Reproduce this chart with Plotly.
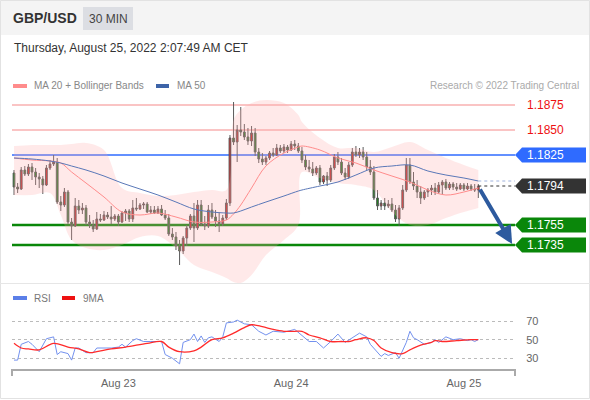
import plotly.graph_objects as go
import pandas as pd

# ---------------- data ----------------
start_time = "2022-08-22 09:30"
opens = [1.1807,1.1793,1.1791,1.1810,1.1806,1.1813,1.1808,1.1803,1.1801,1.1795,
         1.1812,1.1816,1.1818,1.1778,1.1775,1.1788,1.1758,1.1754,1.1774,1.1770,
         1.1772,1.1758,1.1755,1.1751,1.1761,1.1760,1.1765,1.1763,1.1761,1.1764,
         1.1758,1.1767,1.1769,1.1761,1.1772,1.1771,1.1775,1.1776,1.1768,1.1770,
         1.1767,1.1771,1.1765,1.1762,1.1746,1.1743,1.1734,1.1729,1.1742,1.1752,
         1.1764,1.1752,1.1775,1.1756,1.1754,1.1770,1.1763,1.1759,1.1756,1.1762,
         1.1777,1.1842,1.1838,1.1850,1.1848,1.1843,1.1839,1.1847,1.1828,1.1821,
         1.1818,1.1822,1.1827,1.1825,1.1832,1.1829,1.1833,1.1830,1.1836,1.1834,
         1.1829,1.1820,1.1813,1.1811,1.1807,1.1812,1.1798,1.1804,1.1800,1.1812,
         1.1823,1.1818,1.1807,1.1803,1.1815,1.1828,1.1825,1.1828,1.1823,1.1813,
         1.1808,1.1782,1.1774,1.1777,1.1774,1.1776,1.1770,1.1761,1.1772,1.1790,
         1.1815,1.1798,1.1794,1.1788,1.1782,1.1788,1.1790,1.1792,1.1788,1.1795,
         1.1798,1.1792,1.1796,1.1793,1.1791,1.1795,1.1791,1.1794,1.1791,1.1790]
highs = [1.1810,1.1797,1.1813,1.1814,1.1816,1.1817,1.1812,1.1807,1.1804,1.1815,
         1.1820,1.1825,1.1822,1.1784,1.1792,1.1790,1.1762,1.1782,1.1780,1.1777,
         1.1775,1.1765,1.1760,1.1768,1.1766,1.1769,1.1768,1.1774,1.1766,1.1766,
         1.1769,1.1771,1.1771,1.1780,1.1782,1.1777,1.1778,1.1778,1.1774,1.1774,
         1.1774,1.1775,1.1770,1.1766,1.1752,1.1748,1.1740,1.1744,1.1755,1.1766,
         1.1777,1.1780,1.1780,1.1764,1.1775,1.1777,1.1770,1.1768,1.1765,1.1781,
         1.1845,1.1878,1.1855,1.1873,1.1856,1.1852,1.1854,1.1852,1.1832,1.1827,
         1.1824,1.1829,1.1832,1.1836,1.1835,1.1836,1.1835,1.1839,1.1840,1.1837,
         1.1833,1.1825,1.1820,1.1818,1.1814,1.1815,1.1805,1.1808,1.1815,1.1826,
         1.1828,1.1822,1.1812,1.1818,1.1832,1.1834,1.1832,1.1833,1.1828,1.1820,
         1.1814,1.1790,1.1780,1.1782,1.1780,1.1782,1.1775,1.1775,1.1795,1.1822,
         1.1822,1.1808,1.1800,1.1794,1.1790,1.1792,1.1795,1.1797,1.1798,1.1800,
         1.1801,1.1798,1.1798,1.1797,1.1797,1.1797,1.1797,1.1796,1.1796,1.1796]
lows = [1.1785,1.1787,1.1790,1.1804,1.1804,1.1800,1.1795,1.1792,1.1786,1.1794,
        1.1810,1.1814,1.1776,1.1769,1.1773,1.1756,1.1740,1.1753,1.1766,1.1766,
        1.1755,1.1752,1.1748,1.1750,1.1758,1.1759,1.1761,1.1756,1.1759,1.1754,
        1.1757,1.1759,1.1758,1.1758,1.1769,1.1770,1.1771,1.1767,1.1766,1.1766,
        1.1766,1.1764,1.1760,1.1744,1.1740,1.1730,1.1715,1.1726,1.1734,1.1750,
        1.1738,1.1750,1.1754,1.1750,1.1752,1.1761,1.1753,1.1748,1.1754,1.1760,
        1.1774,1.1835,1.1818,1.1844,1.1840,1.1835,1.1834,1.1824,1.1817,1.1815,
        1.1815,1.1820,1.1823,1.1824,1.1827,1.1827,1.1827,1.1829,1.1830,1.1827,
        1.1817,1.1810,1.1808,1.1804,1.1805,1.1795,1.1796,1.1794,1.1798,1.1810,
        1.1815,1.1805,1.1800,1.1801,1.1813,1.1823,1.1822,1.1820,1.1810,1.1805,
        1.1780,1.1770,1.1770,1.1770,1.1772,1.1768,1.1758,1.1754,1.1770,1.1788,
        1.1796,1.1790,1.1782,1.1776,1.1780,1.1783,1.1785,1.1785,1.1786,1.1785,
        1.1790,1.1790,1.1790,1.1789,1.1790,1.1789,1.1790,1.1789,1.1788,1.1782]
closes = [1.1793,1.1791,1.1810,1.1806,1.1813,1.1808,1.1803,1.1801,1.1795,1.1812,
          1.1816,1.1818,1.1778,1.1775,1.1788,1.1758,1.1754,1.1774,1.1770,1.1772,
          1.1758,1.1755,1.1751,1.1761,1.1760,1.1765,1.1763,1.1761,1.1764,1.1758,
          1.1767,1.1769,1.1761,1.1772,1.1771,1.1775,1.1776,1.1768,1.1770,1.1767,
          1.1771,1.1765,1.1762,1.1746,1.1743,1.1734,1.1729,1.1742,1.1752,1.1764,
          1.1752,1.1775,1.1756,1.1754,1.1770,1.1763,1.1759,1.1756,1.1762,1.1777,
          1.1842,1.1838,1.1850,1.1848,1.1843,1.1839,1.1847,1.1828,1.1821,1.1818,
          1.1822,1.1827,1.1825,1.1832,1.1829,1.1833,1.1830,1.1836,1.1834,1.1829,
          1.1820,1.1813,1.1811,1.1807,1.1812,1.1798,1.1804,1.1800,1.1812,1.1823,
          1.1818,1.1807,1.1803,1.1815,1.1828,1.1825,1.1828,1.1823,1.1813,1.1808,
          1.1782,1.1774,1.1777,1.1774,1.1776,1.1770,1.1761,1.1772,1.1790,1.1815,
          1.1798,1.1794,1.1788,1.1782,1.1788,1.1790,1.1792,1.1788,1.1795,1.1798,
          1.1792,1.1796,1.1793,1.1791,1.1795,1.1791,1.1794,1.1791,1.1790,1.1794]

# indicator sample positions (candle index) and values
ind_idx = [0,5,10,13,16,20,25,30,35,40,45,50,55,59,61,63,66,70,75,79,80,85,90,95,100,105,110,115,120,125,129]
ma50 = [1.1822,1.1821,1.1819,1.1817,1.1814,1.1810,1.1804,1.1797,1.1791,1.1785,1.1778,1.1771,1.1768,1.1767,1.1767,
        1.1769,1.1773,1.1778,1.1784,1.1789,1.1790,1.1794,1.1798,1.1805,1.1812,1.1814,1.1815,1.1809,1.1805,1.1802,1.1799]
ma20 = [1.1822,1.1820,1.1819,1.1817,1.1808,1.1797,1.1783,1.1768,1.1765,1.1767,1.1763,1.1758,1.1758,1.1760,1.1766,
        1.1775,1.1792,1.1814,1.1827,1.1833,1.1834,1.1830,1.1822,1.1817,1.1810,1.1804,1.1798,1.1790,1.1785,1.1788,1.1792]
bb_upper = [1.1834,1.1835,1.1835,1.1835,1.1836,1.1837,1.1830,1.1792,1.1787,1.1784,1.1785,1.1788,1.1790,1.1790,1.1860,
            1.1870,1.1877,1.1880,1.1877,1.1865,1.1858,1.1842,1.1832,1.1832,1.1828,1.1833,1.1838,1.1830,1.1822,1.1815,1.1810]
bb_lower = [1.1785,1.1785,1.1787,1.1765,1.1740,1.1732,1.1730,1.1735,1.1743,1.1744,1.1732,1.1715,1.1708,1.1702,1.1698,
            1.1697,1.1705,1.1725,1.1740,1.1755,1.1808,1.1802,1.1797,1.1795,1.1790,1.1768,1.1755,1.1755,1.1762,1.1768,1.1772]

rsi_idx = [0,1,2,4,5,7,9,11,12,13,15,16,17,18,20,22,23,25,27,29,30,31,33,34,36,38,41,42,44,46,47,49,50,51,52,53,
           54,55,57,58,59,61,62,64,66,68,70,72,75,78,80,82,84,86,88,90,92,94,96,98,99,102,103,104,106,107,109,110,
           111,112,114,116,117,118,120,122,124,126,127,128,129]
rsi = [28,28,45,48,45,37,51,53,34,37,35,28,41,41,36,36,41,41,41,42,45,42,49,51,48,48,48,34,30,24,47,50,56,48,54,47,
       52,53,48,53,68,69,71,67,66,59,55,59,58,61,55,48,48,41,48,56,47,52,57,53,45,32,35,33,36,30,47,59,
       52,50,45,47,50,47,53,50,51,49,50,48,50]
ma9_idx = [0,2,4,7,11,15,18,21,23,27,31,37,41,43,46,50,52,55,58,61,64,66,69,72,75,78,80,82,85,88,91,93,95,98,100,
           102,105,108,110,113,116,117,119,123,127,129]
rsi_ma9 = [46,41,40,39,46,42,40,36,37,40,42,46,48,42,37,38,42,50,52,57,63,66,64,61,59,59,59,55,52,48,48,48,50,52,49,
           41,36,35,39,44,47,49,48,49,50,50]

levels_res = [1.1875, 1.1850]
level_pivot = 1.1825
level_last = 1.1794
levels_sup = [1.1755, 1.1735]
tick_days = ["2022-08-23", "2022-08-24", "2022-08-25"]

# ---------------- helpers ----------------
W, H = 590, 400
L, R = 12, 75
PW = W - L - R
t0 = pd.Timestamp(start_time)
step = pd.Timedelta(minutes=30)


def tm(i):
    return t0 + step * i


def px(x):
    return (x - L) / PW


def py(y):
    return (H - y) / H


times = [tm(i) for i in range(len(closes))]
ind_t = [tm(i) for i in ind_idx]
rsi_t = [tm(i) for i in rsi_idx]
ma9_t = [tm(i) for i in ma9_idx]

FONT = "Liberation Sans, Arial, Helvetica, sans-serif"

fig = go.Figure()

# Bollinger band
fig.add_trace(go.Scatter(x=ind_t, y=bb_lower, mode="lines", line=dict(width=0, shape="spline"),
                         hoverinfo="skip", xaxis="x", yaxis="y"))
fig.add_trace(go.Scatter(x=ind_t, y=bb_upper, mode="lines", line=dict(width=0, shape="spline"),
                         fill="tonexty", fillcolor="rgba(255,170,170,0.26)", hoverinfo="skip",
                         xaxis="x", yaxis="y"))
fig.add_trace(go.Scatter(x=ind_t, y=ma20, mode="lines", line=dict(width=1, color="#ff8c8c", shape="spline"),
                         xaxis="x", yaxis="y"))
fig.add_trace(go.Scatter(x=ind_t, y=ma50, mode="lines", line=dict(width=1, color="#5a78b8", shape="spline"),
                         xaxis="x", yaxis="y"))
# dotted extensions
x_end = tm(139.2)
fig.add_trace(go.Scatter(x=[times[-1], x_end], y=[ma50[-1], ma50[-1]], mode="lines",
                         line=dict(width=1, color="#9fb2dd", dash="dot"), xaxis="x", yaxis="y"))
fig.add_trace(go.Scatter(x=[times[-1], x_end], y=[level_last, level_last], mode="lines",
                         line=dict(width=1, color="#333333", dash="dot"), xaxis="x", yaxis="y"))

fig.add_trace(go.Candlestick(
    x=times, open=opens, high=highs, low=lows, close=closes,
    increasing=dict(fillcolor="#e51f1f", line=dict(color="#5a5a5a", width=1)),
    decreasing=dict(fillcolor="#178a17", line=dict(color="#5a5a5a", width=1)),
    whiskerwidth=0, xaxis="x", yaxis="y"))

# RSI panel
fig.add_trace(go.Scatter(x=rsi_t, y=rsi, mode="lines", line=dict(width=1, color="#7391ee"),
                         xaxis="x", yaxis="y2"))
fig.add_trace(go.Scatter(x=ma9_t, y=rsi_ma9, mode="lines", line=dict(width=1.3, color="#ff2b2b", shape="spline"),
                         xaxis="x", yaxis="y2"))

shapes = []
annotations = []

# header
shapes.append(dict(type="rect", xref="paper", yref="paper", x0=px(0), x1=px(590), y0=py(35), y1=py(0),
                   fillcolor="#f4f4f4", line=dict(width=0), layer="below"))
shapes.append(dict(type="rect", xref="paper", yref="paper", x0=px(83), x1=px(133), y0=py(30), y1=py(7),
                   fillcolor="#dcdee3", line=dict(width=0), layer="below"))
shapes.append(dict(type="rect", xref="paper", yref="paper", x0=px(0.5), x1=px(589.5), y0=py(398.5), y1=py(0.5),
                   fillcolor="rgba(0,0,0,0)", line=dict(width=1, color="#e2e2e2")))
shapes.append(dict(type="line", xref="paper", yref="paper", x0=px(0), x1=px(590), y0=py(283.5), y1=py(283.5),
                   line=dict(width=1, color="#e6e6e6")))

annotations.append(dict(text="<b>GBP/USD</b>", xref="paper", yref="paper", x=px(11), y=py(18), xanchor="left",
                        yanchor="middle", showarrow=False, font=dict(size=14, color="#333333", family=FONT)))
annotations.append(dict(text="30 MIN", xref="paper", yref="paper", x=px(108), y=py(18.5), xanchor="center",
                        yanchor="middle", showarrow=False, font=dict(size=12, color="#444444", family=FONT)))
annotations.append(dict(text="Thursday, August 25, 2022 2:07:49 AM CET", xref="paper", yref="paper", x=px(12),
                        y=py(48), xanchor="left", yanchor="middle", showarrow=False,
                        font=dict(size=12, color="#333333", family=FONT)))

# legends
shapes.append(dict(type="rect", xref="paper", yref="paper", x0=px(13), x1=px(27), y0=py(88), y1=py(84),
                   fillcolor="#ff8c8c", line=dict(width=0)))
annotations.append(dict(text="MA 20 + Bollinger Bands", xref="paper", yref="paper", x=px(32), y=py(86),
                        xanchor="left", yanchor="middle", showarrow=False,
                        font=dict(size=10, color="#888888", family=FONT)))
shapes.append(dict(type="rect", xref="paper", yref="paper", x0=px(156), x1=px(169), y0=py(88), y1=py(84),
                   fillcolor="#3d64a8", line=dict(width=0)))
annotations.append(dict(text="MA 50", xref="paper", yref="paper", x=px(175), y=py(86),
                        xanchor="left", yanchor="middle", showarrow=False,
                        font=dict(size=10, color="#888888", family=FONT)))
annotations.append(dict(text="Research © 2022 Trading Central", xref="paper", yref="paper", x=px(581), y=py(86),
                        xanchor="right", yanchor="middle", showarrow=False,
                        font=dict(size=10, color="#aaaaaa", family=FONT)))

shapes.append(dict(type="rect", xref="paper", yref="paper", x0=px(13), x1=px(27), y0=py(300), y1=py(296),
                   fillcolor="#5b7fe8", line=dict(width=0)))
annotations.append(dict(text="RSI", xref="paper", yref="paper", x=px(32), y=py(298),
                        xanchor="left", yanchor="middle", showarrow=False,
                        font=dict(size=10, color="#777777", family=FONT)))
shapes.append(dict(type="rect", xref="paper", yref="paper", x0=px(62), x1=px(75), y0=py(300), y1=py(296),
                   fillcolor="#ee1111", line=dict(width=0)))
annotations.append(dict(text="9MA", xref="paper", yref="paper", x=px(81), y=py(298),
                        xanchor="left", yanchor="middle", showarrow=False,
                        font=dict(size=10, color="#777777", family=FONT)))

# bottom axis line with end ticks
shapes.append(dict(type="line", xref="paper", yref="paper", x0=px(12), x1=px(515), y0=py(370), y1=py(370),
                   line=dict(width=2, color="#aaaaaa")))
for xe in (12, 515):
    shapes.append(dict(type="line", xref="paper", yref="paper", x0=px(xe), x1=px(xe), y0=py(369), y1=py(376),
                       line=dict(width=2, color="#aaaaaa")))

# horizontal levels
for lv in levels_res:
    shapes.append(dict(type="line", xref="paper", yref="y", x0=0, x1=1, y0=lv, y1=lv,
                       line=dict(width=1.5, color="rgba(240,80,80,0.45)"), layer="below"))
    annotations.append(dict(text=f"{lv:.4f}", xref="paper", yref="y", x=px(525), y=lv, xanchor="left",
                            yanchor="middle", showarrow=False, font=dict(size=12, color="#ee1111", family=FONT)))
shapes.append(dict(type="line", xref="paper", yref="y", x0=0, x1=1, y0=level_pivot, y1=level_pivot,
                   line=dict(width=1.5, color="#2f6bff"), layer="below"))
for lv in levels_sup:
    shapes.append(dict(type="line", xref="paper", yref="y", x0=0, x1=1, y0=lv, y1=lv,
                       line=dict(width=2.5, color="#0a870a"), layer="below"))


def tag(level, color):
    h = 0.00075
    path = (f"M {px(515)},{level} L {px(522)},{level + h} L {px(586)},{level + h} "
            f"L {px(586)},{level - h} L {px(522)},{level - h} Z")
    shapes.append(dict(type="path", xref="paper", yref="y", path=path, fillcolor=color, line=dict(width=0)))
    annotations.append(dict(text=f"{level:.4f}", xref="paper", yref="y", x=px(525), y=level, xanchor="left",
                            yanchor="middle", showarrow=False, font=dict(size=12, color="white", family=FONT)))


tag(level_pivot, "#2f6bff")
tag(level_last, "#333333")
for lv in levels_sup:
    tag(lv, "#0a870a")

# forecast arrow
annotations.append(dict(text="", xref="x", yref="y", x=tm(138.4), y=1.1736, ax=-33, ay=-56,
                        showarrow=True, arrowhead=2, arrowsize=0.9, arrowwidth=4, arrowcolor="#2d5a9e",
                        standoff=0))

fig.update_layout(
    width=W, height=H, margin=dict(l=L, r=R, t=0, b=0),
    paper_bgcolor="white", plot_bgcolor="rgba(0,0,0,0)", showlegend=False,
    font=dict(family=FONT),
    xaxis=dict(type="date", range=[tm(-0.56), x_end], anchor="y2", showgrid=False, zeroline=False,
               showline=False, rangeslider=dict(visible=False), tickvals=tick_days, tickformat="%b %d",
               ticks="outside", ticklen=3, tickcolor="rgba(0,0,0,0)",
               tickfont=dict(size=11, color="#666666", family=FONT)),
    yaxis=dict(domain=[py(285), py(95)], range=[1.1695, 1.1885], showticklabels=False, showgrid=False,
               zeroline=False, showline=False, fixedrange=True),
    yaxis2=dict(domain=[py(369.4), py(311.75)], range=[18, 80], side="right", anchor="x",
                tickvals=[30, 50, 70], showgrid=True, gridcolor="#bbbbbb", griddash="dot", gridwidth=1,
                zeroline=False, showline=False, ticks="outside", ticklen=8, tickcolor="rgba(0,0,0,0)",
                tickfont=dict(size=11, color="#666666", family=FONT)),
    shapes=shapes, annotations=annotations,
)

fig.write_html("out.html", config={"displayModeBar": False},
               post_script="document.body.style.margin='0';document.body.style.padding='0';")
